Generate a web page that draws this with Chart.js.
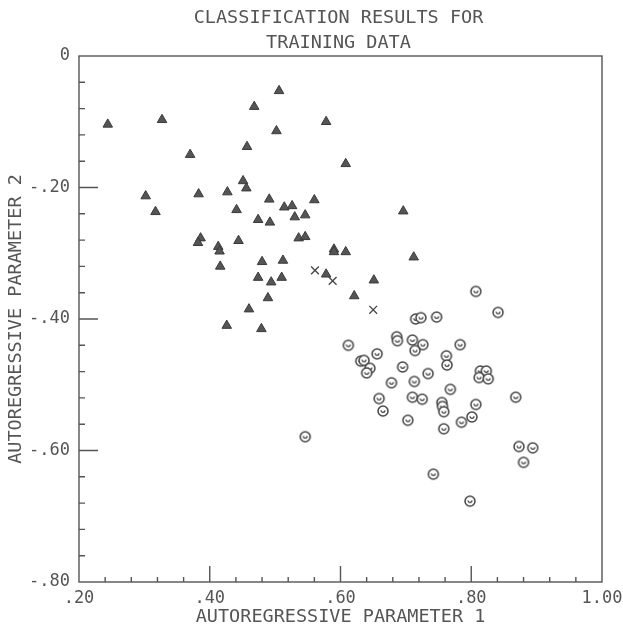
<!DOCTYPE html>
<html>
<head>
<meta charset="utf-8">
<script src="https://cdn.jsdelivr.net/npm/chart.js@4"></script>
<style>
html, body { margin: 0; padding: 0; background: #fff; }
#wrap { width: 623px; height: 632px; }
</style>
</head>
<body>
<div id="wrap"><canvas id="chart"></canvas></div>
<script>
var titleLines = ['CLASSIFICATION RESULTS FOR', 'TRAINING DATA'];
var xTitle = 'AUTOREGRESSIVE PARAMETER 1';
var yTitle = 'AUTOREGRESSIVE PARAMETER 2';

var xTicks = [0.2, 0.4, 0.6, 0.8, 1.0];
var xTickLabels = ['.20', '.40', '.60', '.80', '1.00'];
var yTicks = [0, -0.2, -0.4, -0.6, -0.8];
var yTickLabels = ['0', '-.20', '-.40', '-.60', '-.80'];

// triangles
var triX = [0.244, 0.327, 0.468, 0.506, 0.502, 0.578, 0.457, 0.370, 0.451, 0.456,
            0.302, 0.383, 0.427, 0.491, 0.560, 0.317, 0.441, 0.514, 0.526, 0.474,
            0.492, 0.530, 0.546, 0.386, 0.382, 0.444, 0.536, 0.546, 0.413, 0.415,
            0.590, 0.590, 0.480, 0.512, 0.416, 0.578, 0.474, 0.510, 0.608, 0.696,
            0.608, 0.712, 0.651, 0.621, 0.494, 0.489, 0.460, 0.426, 0.479];
var triY = [-0.104, -0.097, -0.077, -0.053, -0.114, -0.100, -0.138, -0.150, -0.190, -0.201,
            -0.213, -0.210, -0.207, -0.218, -0.219, -0.237, -0.234, -0.230, -0.228, -0.249,
            -0.253, -0.245, -0.242, -0.277, -0.284, -0.281, -0.277, -0.275, -0.290, -0.297,
            -0.294, -0.298, -0.313, -0.311, -0.320, -0.332, -0.337, -0.337, -0.164, -0.236,
            -0.298, -0.306, -0.341, -0.365, -0.344, -0.368, -0.385, -0.410, -0.415];

// circles
var circX = [0.546, 0.807, 0.841, 0.715, 0.723, 0.747, 0.612, 0.686, 0.687, 0.710,
             0.726, 0.714, 0.783, 0.656, 0.762, 0.763, 0.631, 0.636, 0.645, 0.640,
             0.695, 0.734, 0.814, 0.823, 0.812, 0.826, 0.678, 0.713, 0.768, 0.868,
             0.659, 0.710, 0.725, 0.755, 0.756, 0.758, 0.807, 0.665, 0.801, 0.785,
             0.703, 0.758, 0.873, 0.894, 0.880, 0.742, 0.798];
var circY = [-0.579, -0.358, -0.390, -0.400, -0.398, -0.397, -0.440, -0.427, -0.433, -0.432,
             -0.439, -0.448, -0.439, -0.453, -0.456, -0.470, -0.464, -0.463, -0.475, -0.482,
             -0.473, -0.483, -0.479, -0.479, -0.489, -0.491, -0.497, -0.495, -0.507, -0.519,
             -0.521, -0.519, -0.522, -0.527, -0.533, -0.541, -0.530, -0.540, -0.549, -0.557,
             -0.554, -0.567, -0.594, -0.596, -0.618, -0.636, -0.677];

// crosses
var crossX = [0.561, 0.588, 0.650];
var crossY = [-0.326, -0.342, -0.386];

var ink = '#555';
var fontFam = '"DejaVu Sans Mono", monospace';

function pts(xs, ys) {
  return xs.map(function(x, i){ return {x: x, y: ys[i]}; });
}

// little circle with a "u" inside
var circImg = document.createElement('canvas');
circImg.width = 14; circImg.height = 14;
var c = circImg.getContext('2d');
c.strokeStyle = '#444';
c.lineWidth = 1.5;
c.fillStyle = '#fff';
c.beginPath(); c.arc(7, 7, 5, 0, Math.PI * 2); c.fill(); c.stroke();
c.lineWidth = 1.2;
c.beginPath(); c.arc(7, 6.3, 2, 0, Math.PI); c.stroke();

// frame, inward ticks and the title centred over the plot
var frameTicks = {
  id: 'frameTicks',
  beforeDatasetsDraw: function(chart) {
    var ctx = chart.ctx, a = chart.chartArea;
    var xs = chart.scales.x, ys = chart.scales.y;
    ctx.save();
    ctx.strokeStyle = ink;
    ctx.lineWidth = 1.4;
    ctx.strokeRect(a.left, a.top, a.right - a.left, a.bottom - a.top);
    ctx.beginPath();
    for (var i = 1; i < 20; i++) {
      var px = xs.getPixelForValue(0.2 + i * 0.04);
      var len = (i % 5 == 0) ? 16 : 5;
      ctx.moveTo(px, a.bottom);
      ctx.lineTo(px, a.bottom - len);
    }
    for (var j = 1; j < 20; j++) {
      var py = ys.getPixelForValue(-j * 0.04);
      var len2 = (j % 5 == 0) ? 19 : 6;
      ctx.moveTo(a.left, py);
      ctx.lineTo(a.left + len2, py);
    }
    ctx.stroke();

    ctx.fillStyle = ink;
    ctx.font = '18.5px ' + fontFam;
    ctx.textAlign = 'center';
    ctx.textBaseline = 'middle';
    var cx = (a.left + a.right) / 2 - 2;
    ctx.fillText(titleLines[0], cx, 18);
    ctx.fillText(titleLines[1], cx, 43);
    ctx.restore();
  }
};

new Chart(document.getElementById('chart'), {
  type: 'scatter',
  data: {
    datasets: [{
      label: 'triangles',
      data: pts(triX, triY),
      pointStyle: 'triangle',
      pointRadius: 5.5,
      backgroundColor: '#555',
      borderColor: '#3a3a3a',
      borderWidth: 1
    }, {
      label: 'circles',
      data: pts(circX, circY),
      pointStyle: circImg,
      pointRadius: 7
    }, {
      label: 'crosses',
      data: pts(crossX, crossY),
      pointStyle: 'crossRot',
      pointRadius: 5.5,
      borderColor: '#444',
      borderWidth: 1.3
    }]
  },
  options: {
    responsive: true,
    maintainAspectRatio: false,
    animation: false,
    layout: { padding: { left: 0, right: 21, top: 56, bottom: 0 } },
    plugins: {
      legend: { display: false },
      tooltip: { enabled: false },
      title: { display: false }
    },
    scales: {
      x: {
        type: 'linear',
        min: 0.2,
        max: 1.0,
        afterBuildTicks: function(s){ s.ticks = xTicks.map(function(v){ return {value: v}; }); },
        afterFit: function(s){ s.height = 50; s.paddingLeft = 0; s.paddingRight = 0; },
        grid: { display: false, drawTicks: false },
        border: { display: false },
        ticks: {
          callback: function(v, i){ return xTickLabels[i]; },
          autoSkip: false,
          maxRotation: 0,
          padding: 8,
          color: ink,
          font: { family: fontFam, size: 17, lineHeight: '18px' }
        },
        title: {
          display: true,
          text: xTitle,
          color: ink,
          font: { family: fontFam, size: 18.5, lineHeight: '18px' },
          padding: { top: 0, bottom: 6 }
        }
      },
      y: {
        type: 'linear',
        min: -0.8,
        max: 0,
        afterBuildTicks: function(s){ s.ticks = yTicks.map(function(v){ return {value: v}; }); },
        afterFit: function(s){ s.width = 79; s.paddingTop = 0; s.paddingBottom = 0; },
        grid: { display: false, drawTicks: false },
        border: { display: false },
        ticks: {
          callback: function(v, i){ return yTickLabels[i]; },
          autoSkip: false,
          padding: 9,
          color: ink,
          font: { family: fontFam, size: 17, lineHeight: '18px' }
        },
        title: {
          display: true,
          text: yTitle,
          color: ink,
          font: { family: fontFam, size: 18.5, lineHeight: '18px' },
          padding: { top: 7, bottom: 0 }
        }
      }
    }
  },
  plugins: [frameTicks]
});
</script>
</body>
</html>
